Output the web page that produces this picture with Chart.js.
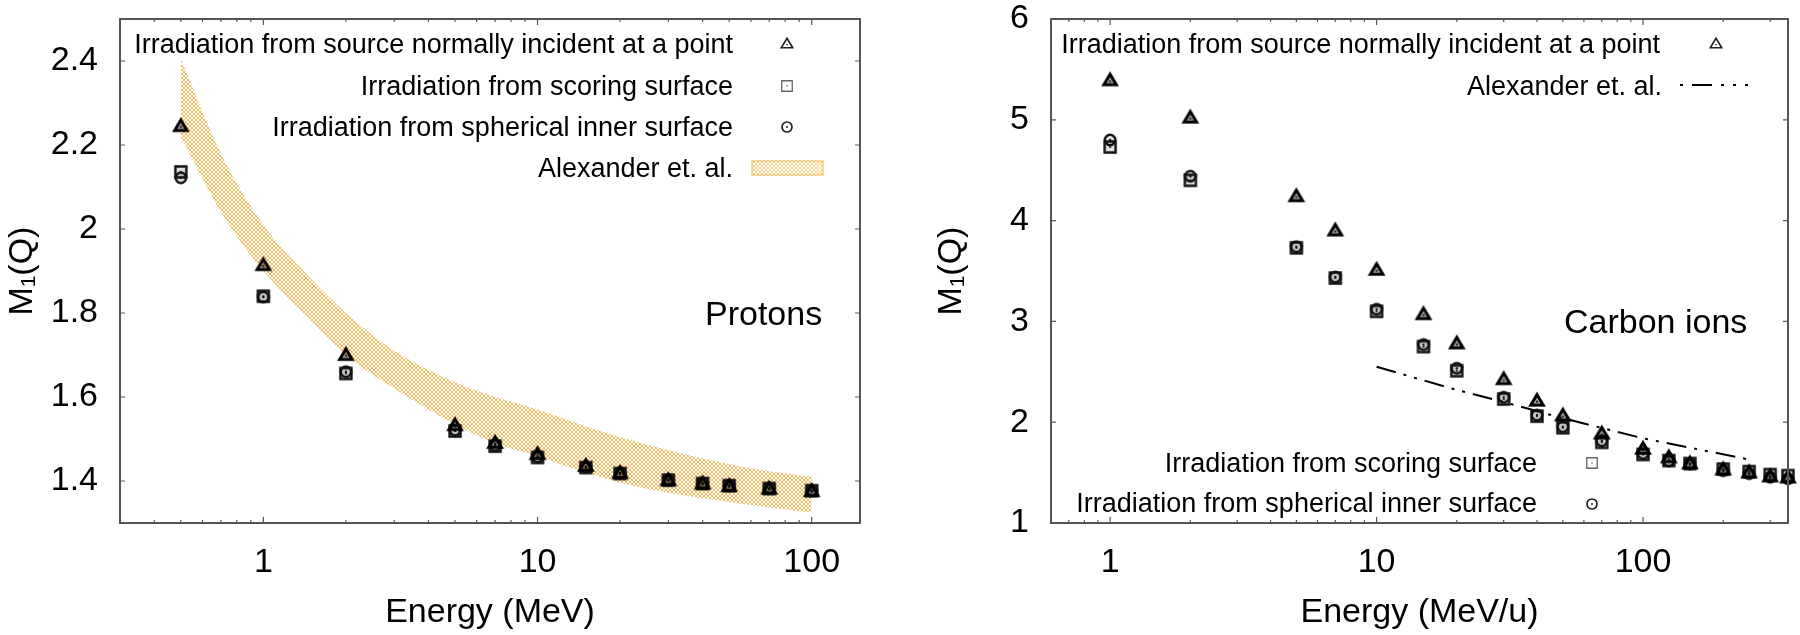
<!DOCTYPE html>
<html>
<head>
<meta charset="utf-8">
<script src="https://cdn.jsdelivr.net/npm/chart.js@4.4.1/dist/chart.umd.min.js"></script>
<style>
  html, body { margin: 0; padding: 0; background: #fff; }
  .panel { position: absolute; top: 0; height: 635px; }
  #protonBox { left: 0; width: 890px; }
  #carbonBox { left: 890px; width: 910px; }
</style>
</head>
<body>
<div class="panel" id="protonBox"><canvas id="protonChart"></canvas></div>
<div class="panel" id="carbonBox"><canvas id="carbonChart"></canvas></div>
<script>
// protons (left panel)
const protonEnergy = [0.5, 1, 2, 5, 7, 10, 15, 20, 30, 40, 50, 70, 100];
const protonPointSource = [2.247, 1.916, 1.702, 1.535, 1.493, 1.466, 1.438, 1.421, 1.404, 1.396, 1.390, 1.384, 1.378];
const protonScoring = [2.136, 1.840, 1.656, 1.519, 1.483, 1.456, 1.432, 1.418, 1.402, 1.394, 1.389, 1.382, 1.377];
const protonSpherical = [2.122, 1.838, 1.660, 1.521, 1.485, 1.457, 1.433, 1.419, 1.403, 1.395, 1.389, 1.383, 1.377];
const protonBandEnergy = [0.5, 0.7, 1, 1.5, 2, 3, 5, 7, 10, 15, 20, 30, 50, 70, 100];
const protonBandUpper = [2.405, 2.18, 2.01, 1.88, 1.80, 1.71, 1.635, 1.60, 1.57, 1.53, 1.505, 1.473, 1.44, 1.423, 1.41];
const protonBandLower = [2.22, 2.04, 1.90, 1.78, 1.70, 1.62, 1.535, 1.49, 1.459, 1.42, 1.396, 1.372, 1.350, 1.337, 1.325];
const protonXTicks = [1, 10, 100];
const protonYTicks = [1.4, 1.6, 1.8, 2, 2.2, 2.4];

// carbon ions (right panel)
const carbonEnergy = [1, 2, 5, 7, 10, 15, 20, 30, 40, 50, 70, 100, 125, 150, 200, 250, 300, 350];
const carbonPointSource = [5.40, 5.03, 4.25, 3.91, 3.52, 3.08, 2.79, 2.435, 2.222, 2.075, 1.896, 1.745, 1.66, 1.60, 1.54, 1.51, 1.47, 1.46];
const carbonScoring = [4.73, 4.40, 3.73, 3.43, 3.10, 2.75, 2.51, 2.23, 2.06, 1.945, 1.80, 1.68, 1.62, 1.59, 1.535, 1.51, 1.48, 1.47];
const carbonSpherical = [4.80, 4.44, 3.74, 3.44, 3.12, 2.77, 2.535, 2.247, 2.07, 1.955, 1.815, 1.69, 1.615, 1.585, 1.52, 1.49, 1.455, 1.44];
const carbonAlexEnergy = [10, 20, 30, 50, 100, 250];
const carbonAlexander = [2.55, 2.32, 2.20, 2.04, 1.84, 1.63];
const carbonXTicks = [1, 10, 100];
const carbonYTicks = [1, 2, 3, 4, 5, 6];

const FONT = "'Liberation Sans', Arial, sans-serif";
const TICK_FONT = { family: FONT, size: 34 };
const TITLE_FONT = { family: FONT, size: 34 };

function toPoints(xs, ys) {
  return xs.map((x, i) => ({ x: x, y: ys[i] }));
}

function makeMarker(shape, opts) {
  const size = 20;
  const c = document.createElement("canvas");
  c.width = size;
  c.height = size;
  const ctx = c.getContext("2d");
  const m = size / 2;
  ctx.strokeStyle = opts.color;
  ctx.lineWidth = opts.lw;
  ctx.beginPath();
  let dotY = m;
  if (shape === "triangle") {
    const w = opts.w / 2, h = opts.h / 2;
    ctx.moveTo(m, m - h);
    ctx.lineTo(m + w, m + h);
    ctx.lineTo(m - w, m + h);
    ctx.closePath();
    dotY = m + h / 3;
  } else if (shape === "square") {
    const s = opts.w / 2;
    ctx.rect(m - s, m - s, 2 * s, 2 * s);
  } else {
    ctx.arc(m, m, opts.w / 2, 0, Math.PI * 2);
  }
  if (opts.fill) {
    ctx.fillStyle = opts.fill;
    ctx.fill();
  }
  ctx.stroke();
  ctx.fillStyle = opts.color;
  ctx.beginPath();
  ctx.arc(m, dotY, opts.dot, 0, Math.PI * 2);
  ctx.fill();
  return c;
}

const dataMarkers = {
  triangle: makeMarker("triangle", { w: 12.5, h: 10.5, lw: 3, color: "#000", fill: "rgba(0,0,0,0.35)", dot: 1 }),
  square: makeMarker("square", { w: 11, lw: 2.4, color: "#111", fill: "rgba(0,0,0,0.12)", dot: 1 }),
  circle: makeMarker("circle", { w: 10.5, lw: 2.4, color: "#111", fill: "rgba(0,0,0,0.12)", dot: 1.2 }),
};
const keyMarkers = {
  triangle: makeMarker("triangle", { w: 11.5, h: 9.5, lw: 1.6, color: "#222", dot: 0.8 }),
  square: makeMarker("square", { w: 10.5, lw: 1.3, color: "#666", dot: 0.8 }),
  circle: makeMarker("circle", { w: 10, lw: 1.7, color: "#222", dot: 1 }),
};

function makeHatch(color, lw) {
  const c = document.createElement("canvas");
  c.width = 4;
  c.height = 4;
  const ctx = c.getContext("2d");
  ctx.strokeStyle = color;
  ctx.lineWidth = lw;
  ctx.beginPath();
  ctx.moveTo(0, 0); ctx.lineTo(4, 4);
  ctx.moveTo(4, 0); ctx.lineTo(0, 4);
  ctx.stroke();
  return ctx.createPattern(c, "repeat");
}
const bandHatch = makeHatch("#F2AC40", 0.85);
const keyHatch = makeHatch("#F6C873", 0.8);

// border box with inward ticks, gnuplot style
const framePlugin = {
  id: "gnuFrame",
  afterDatasetsDraw(chart) {
    const { ctx, chartArea: a, scales } = chart;
    const xs = scales.x, ys = scales.y;
    ctx.save();
    ctx.strokeStyle = "#555";
    ctx.lineWidth = 1.2;
    ctx.beginPath();
    xs.ticks.forEach((t) => {
      const px = xs.getPixelForValue(t.value);
      ctx.moveTo(px, a.bottom); ctx.lineTo(px, a.bottom - 6);
      ctx.moveTo(px, a.top); ctx.lineTo(px, a.top + 6);
    });
    const lo = Math.floor(Math.log10(xs.min)), hi = Math.ceil(Math.log10(xs.max));
    for (let k = lo; k <= hi; k++) {
      for (let m = 2; m <= 9; m++) {
        const v = m * Math.pow(10, k);
        if (v <= xs.min || v >= xs.max) continue;
        const px = xs.getPixelForValue(v);
        ctx.moveTo(px, a.bottom); ctx.lineTo(px, a.bottom - 3);
        ctx.moveTo(px, a.top); ctx.lineTo(px, a.top + 3);
      }
    }
    ys.ticks.forEach((t) => {
      const py = ys.getPixelForValue(t.value);
      ctx.moveTo(a.left, py); ctx.lineTo(a.left + 5, py);
      ctx.moveTo(a.right, py); ctx.lineTo(a.right - 5, py);
    });
    ctx.stroke();
    ctx.lineWidth = 2;
    ctx.strokeRect(a.left, a.top, a.right - a.left, a.bottom - a.top);
    ctx.restore();
  },
};

// key entries and panel labels
const keyPlugin = {
  id: "gnuKey",
  afterDraw(chart, args, opts) {
    const ctx = chart.ctx;
    ctx.save();
    ctx.fillStyle = "#000";
    ctx.textBaseline = "alphabetic";
    ctx.font = "27px " + FONT;
    ctx.textAlign = "right";
    opts.rows.forEach((row) => {
      const ds = chart.data.datasets[row.dataset];
      ctx.fillText(ds.label, row.textRight, row.baseline);
      if (row.marker) {
        const img = keyMarkers[row.marker];
        ctx.drawImage(img, row.markerX - img.width / 2, row.markerY - img.height / 2);
      } else if (row.box) {
        const [bx, by, bw, bh] = row.box;
        ctx.fillStyle = keyHatch;
        ctx.fillRect(bx, by, bw, bh);
        ctx.strokeStyle = "#F5C060";
        ctx.lineWidth = 1.2;
        ctx.strokeRect(bx, by, bw, bh);
        ctx.fillStyle = "#000";
      } else if (row.line) {
        const [x0, x1, ly] = row.line;
        ctx.strokeStyle = "#000";
        ctx.lineWidth = 2;
        ctx.setLineDash(row.dash || ds.borderDash);
        ctx.beginPath();
        ctx.moveTo(x0, ly);
        ctx.lineTo(x1, ly);
        ctx.stroke();
        ctx.setLineDash([]);
      }
    });
    ctx.textAlign = "left";
    ctx.font = "34px " + FONT;
    opts.labels.forEach((l) => ctx.fillText(l.text, l.x, l.y));
    ctx.restore();
  },
};

function pointSet(label, xs, ys, marker) {
  return {
    label: label,
    data: toPoints(xs, ys),
    pointStyle: dataMarkers[marker],
    pointRadius: 6,
    showLine: false,
    clip: false,
  };
}

function noEdgePadding(s) {
  s.paddingTop = 0;
  s.paddingBottom = 0;
  s.paddingLeft = 0;
  s.paddingRight = 0;
}

const protonChart = new Chart(document.getElementById("protonChart"), {
  type: "scatter",
  data: {
    datasets: [
      pointSet("Irradiation from source normally incident at a point", protonEnergy, protonPointSource, "triangle"),
      pointSet("Irradiation from scoring surface", protonEnergy, protonScoring, "square"),
      pointSet("Irradiation from spherical inner surface", protonEnergy, protonSpherical, "circle"),
      {
        label: "Alexander et. al.",
        data: toPoints(protonBandEnergy, protonBandUpper),
        showLine: true,
        fill: "+1",
        backgroundColor: bandHatch,
        borderColor: "rgba(0,0,0,0)",
        pointRadius: 0,
        cubicInterpolationMode: "monotone",
      },
      {
        label: "Alexander et. al. lower",
        data: toPoints(protonBandEnergy, protonBandLower),
        showLine: true,
        fill: false,
        borderColor: "rgba(0,0,0,0)",
        pointRadius: 0,
        cubicInterpolationMode: "monotone",
      },
    ],
  },
  options: {
    responsive: true,
    maintainAspectRatio: false,
    animation: false,
    events: [],
    layout: { padding: { left: 0, top: 19, right: 30, bottom: 0 } },
    scales: {
      x: {
        type: "logarithmic",
        min: 0.3,
        max: 150,
        afterBuildTicks: (s) => { s.ticks = protonXTicks.map((v) => ({ value: v, major: true })); },
        afterFit: (s) => { s.height = 112; noEdgePadding(s); },
        grid: { display: false, drawTicks: false },
        border: { display: false },
        ticks: { font: TICK_FONT, color: "#000", padding: 19, maxRotation: 0, autoSkip: false, callback: (v) => String(v) },
        title: { display: true, text: "Energy (MeV)", font: TITLE_FONT, color: "#000", padding: { top: 0, bottom: 2 } },
      },
      y: {
        type: "linear",
        min: 1.3,
        max: 2.5,
        afterBuildTicks: (s) => { s.ticks = protonYTicks.map((v) => ({ value: v })); },
        afterFit: (s) => { s.width = 120; noEdgePadding(s); },
        grid: { display: false, drawTicks: false },
        border: { display: false },
        ticks: { font: TICK_FONT, color: "#000", padding: 22, callback: (v) => String(v) },
        title: { display: true, text: "M\u2081(Q)", font: TITLE_FONT, color: "#000", padding: { top: 2, bottom: 0 } },
      },
    },
    plugins: {
      legend: { display: false },
      tooltip: { enabled: false },
      gnuKey: {
        rows: [
          { dataset: 0, textRight: 733, baseline: 53, marker: "triangle", markerX: 787, markerY: 43 },
          { dataset: 1, textRight: 733, baseline: 95, marker: "square", markerX: 787, markerY: 86 },
          { dataset: 2, textRight: 733, baseline: 136, marker: "circle", markerX: 787, markerY: 127 },
          { dataset: 3, textRight: 733, baseline: 177, box: [752, 161, 71, 14] },
        ],
        labels: [{ text: "Protons", x: 705, y: 325 }],
      },
    },
  },
  plugins: [framePlugin, keyPlugin],
});

const carbonChart = new Chart(document.getElementById("carbonChart"), {
  type: "scatter",
  data: {
    datasets: [
      pointSet("Irradiation from source normally incident at a point", carbonEnergy, carbonPointSource, "triangle"),
      pointSet("Irradiation from scoring surface", carbonEnergy, carbonScoring, "square"),
      pointSet("Irradiation from spherical inner surface", carbonEnergy, carbonSpherical, "circle"),
      {
        label: "Alexander et. al.",
        data: toPoints(carbonAlexEnergy, carbonAlexander),
        showLine: true,
        fill: false,
        borderColor: "#000",
        borderWidth: 2,
        borderDash: [20, 8, 3, 8, 3, 8],
        pointRadius: 0,
      },
    ],
  },
  options: {
    responsive: true,
    maintainAspectRatio: false,
    animation: false,
    events: [],
    layout: { padding: { left: 0, top: 19, right: 12, bottom: 0 } },
    scales: {
      x: {
        type: "logarithmic",
        min: 0.6,
        max: 350,
        afterBuildTicks: (s) => { s.ticks = carbonXTicks.map((v) => ({ value: v, major: true })); },
        afterFit: (s) => { s.height = 112; noEdgePadding(s); },
        grid: { display: false, drawTicks: false },
        border: { display: false },
        ticks: { font: TICK_FONT, color: "#000", padding: 19, maxRotation: 0, autoSkip: false, callback: (v) => String(v) },
        title: { display: true, text: "Energy (MeV/u)", font: TITLE_FONT, color: "#000", padding: { top: 0, bottom: 2 } },
      },
      y: {
        type: "linear",
        min: 1,
        max: 6,
        afterBuildTicks: (s) => { s.ticks = carbonYTicks.map((v) => ({ value: v })); },
        afterFit: (s) => { s.width = 161; noEdgePadding(s); },
        grid: { display: false, drawTicks: false },
        border: { display: false },
        ticks: { font: TICK_FONT, color: "#000", padding: 22, callback: (v) => String(v) },
        title: { display: true, text: "M\u2081(Q)", font: TITLE_FONT, color: "#000", padding: { top: 41, bottom: 0 } },
      },
    },
    plugins: {
      legend: { display: false },
      tooltip: { enabled: false },
      gnuKey: {
        rows: [
          { dataset: 0, textRight: 770, baseline: 53, marker: "triangle", markerX: 826, markerY: 43 },
          { dataset: 3, textRight: 772, baseline: 95, line: [790, 860, 85], dash: [3, 9, 20, 9, 3, 9, 3, 9, 3, 40] },
          { dataset: 1, textRight: 647, baseline: 472, marker: "square", markerX: 702, markerY: 463 },
          { dataset: 2, textRight: 647, baseline: 512, marker: "circle", markerX: 702, markerY: 504 },
        ],
        labels: [{ text: "Carbon ions", x: 674, y: 333 }],
      },
    },
  },
  plugins: [framePlugin, keyPlugin],
});
</script>
</body>
</html>
